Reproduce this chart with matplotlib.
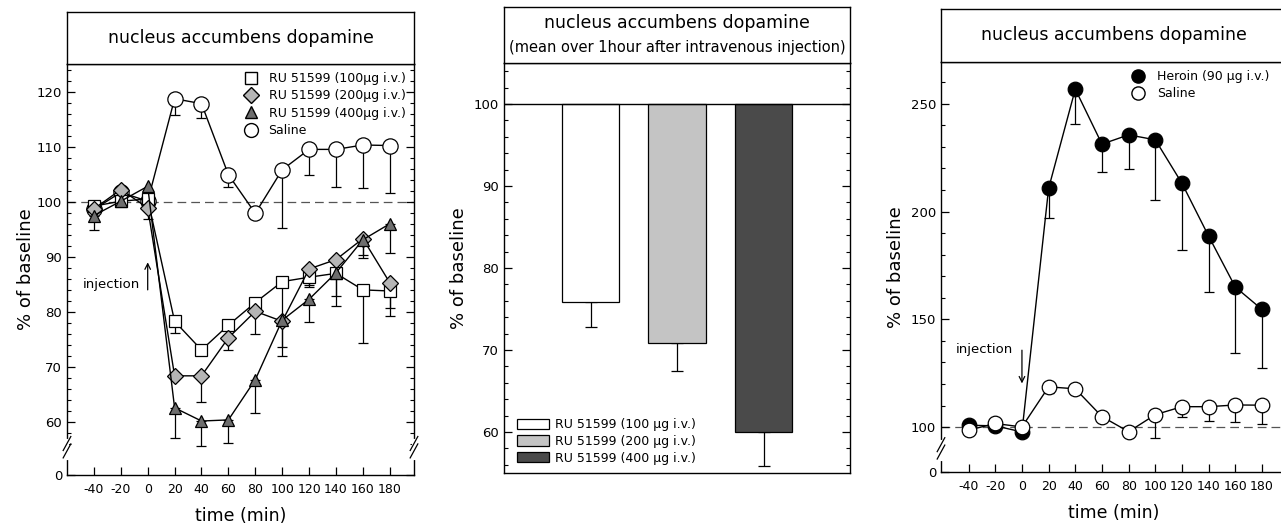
# Tres paneles: dopamina en nucleus accumbens (RU 51599, barras medias, heroina)
import numpy as np
import matplotlib.pyplot as plt
from matplotlib.lines import Line2D
from matplotlib.patches import Patch

plt.rcParams['font.family'] = 'DejaVu Sans'

# ---- datos ----
tiempo = [-40, -20, 0, 20, 40, 60, 80, 100, 120, 140, 160, 180]
tiempo_etiquetas = ['-40', '-20', '0', '20', '40', '60', '80', '100', '120', '140', '160', '180']

salina = [98.6, 101.7, 100.1, 118.7, 117.8, 104.9, 97.9, 105.8, 109.5, 109.5, 110.3, 110.2]
salina_sem = [0.8, 0.5, 0.5, 2.9, 2.6, 2.2, 0, 10.6, 4.7, 6.8, 7.8, 8.7]

ru100 = [99.2, 100.1, 100.5, 78.3, 73.1, 77.6, 81.7, 85.5, 86.3, 87.0, 84.0, 83.8]
ru100_sem = [0, 0, 0, 2.2, 0, 0, 0, 11.8, 1.5, 4.2, 9.7, 4.5]
ru200 = [98.7, 102.2, 98.9, 68.4, 68.4, 75.3, 80.1, 78.3, 87.8, 89.5, 93.3, 85.3]
ru200_sem = [0, 0, 2.0, 0, 4.8, 2.3, 4.1, 0, 3.3, 0, 3.0, 4.6]
ru400 = [97.5, 100.1, 102.8, 62.6, 60.2, 60.4, 67.7, 78.5, 82.3, 87.1, 93.1, 96.0]
ru400_sem = [2.6, 0, 0, 5.4, 4.6, 4.2, 6.1, 6.5, 4.2, 6.0, 3.3, 5.3]

heroina = [100.9, 100.6, 97.8, 210.8, 256.8, 231.3, 235.6, 233.3, 213.1, 188.6, 165.0, 154.6]
heroina_sem = [0, 0, 0, 13.7, 16.2, 12.8, 15.8, 27.7, 30.7, 26.0, 30.4, 27.1]

barras_etiquetas = ["RU 51599 (100 µg i.v.)", "RU 51599 (200 µg i.v.)", "RU 51599 (400 µg i.v.)"]
barras_valores = [75.8, 70.9, 60.0]
barras_sem = [3.0, 3.5, 4.1]

W, H = 1281, 524


def caja(x0, x1, y0, y1):
    # rectangulo en pixeles -> fraccion de figura
    return [x0 / W, 1 - y1 / H, (x1 - x0) / W, (y1 - y0) / H]


def serie(ax, t, v, sem, **estilo):
    t = np.array(t)
    v = np.array(v)
    sem = np.array(sem)
    m = sem > 0
    ax.errorbar(t[m], v[m], yerr=[sem[m], np.zeros(m.sum())], fmt='none',
                ecolor='black', elinewidth=0.9, capsize=3.5, capthick=0.9, zorder=2)
    ax.plot(t, v, color='black', lw=1.0, markeredgecolor='black',
            markeredgewidth=0.9, zorder=3, **estilo)


def titulo(pos, lineas):
    axt = fig.add_axes(pos)
    axt.set_xticks([])
    axt.set_yticks([])
    for s in axt.spines.values():
        s.set_linewidth(1.0)
    if len(lineas) == 1:
        axt.text(0.5, 0.5, lineas[0], ha='center', va='center', fontsize=12.5,
                 transform=axt.transAxes)
    else:
        axt.text(0.5, 0.72, lineas[0], ha='center', va='center', fontsize=12.5,
                 transform=axt.transAxes)
        axt.text(0.5, 0.28, lineas[1], ha='center', va='center', fontsize=10.5,
                 transform=axt.transAxes)


def corte(ax, yb):
    # marcas // del eje cortado (yb en fraccion de ejes)
    for xa in (0, 1):
        ax.plot([xa, xa], [yb - 0.012, yb + 0.03], color='white', lw=3,
                transform=ax.transAxes, clip_on=False, zorder=5)
        for d in (0.0, 0.018):
            ax.plot([xa - 0.011, xa + 0.011], [yb - 0.012 + d, yb + 0.022 + d],
                    color='black', lw=0.9, transform=ax.transAxes,
                    clip_on=False, zorder=6)


def ejes_base(ax):
    for s in ax.spines.values():
        s.set_linewidth(1.0)
    ax.tick_params(axis='both', which='both', direction='in', labelsize=9.5)
    ax.tick_params(which='major', length=6, width=0.9)
    ax.tick_params(which='minor', length=3, width=0.8)


fig = plt.figure(figsize=(W / 100, H / 100), dpi=100)

# ---- panel izquierdo ----
ax1 = fig.add_axes(caja(67, 414, 64, 475))
titulo(caja(67, 414, 12, 64), ["nucleus accumbens dopamine"])
ejes_base(ax1)
ax1.axhline(100, color='#555555', lw=0.9, dashes=(7, 4), zorder=1)
serie(ax1, tiempo, salina, salina_sem, marker='o', markersize=11, markerfacecolor='white')
serie(ax1, tiempo, ru100, ru100_sem, marker='s', markersize=8.5, markerfacecolor='white')
serie(ax1, tiempo, ru200, ru200_sem, marker='D', markersize=8, markerfacecolor='#b5b5b5')
serie(ax1, tiempo, ru400, ru400_sem, marker='^', markersize=9, markerfacecolor='#6e6e6e')
ax1.set_xlim(-60, 198)
ax1.set_ylim(50.4, 125)
ax1.set_xticks(tiempo)
ax1.set_xticklabels(tiempo_etiquetas, fontsize=9)
ax1.set_yticks([50.4, 60, 70, 80, 90, 100, 110, 120])
ax1.set_yticklabels(['0', '60', '70', '80', '90', '100', '110', '120'])
ax1.set_yticks(np.arange(56, 125, 2), minor=True)
ax1.tick_params(axis='y', which='both', right=True)
ax1.tick_params(axis='x', which='both', top=False, pad=6)
ax1.set_ylabel("% of baseline", fontsize=13, labelpad=1)
ax1.set_xlabel("time (min)", fontsize=12.5, labelpad=8)
corte(ax1, (54.4 - 50.4) / (125 - 50.4))
ax1.annotate("", xy=(0, 89.5), xytext=(0, 83.5),
             arrowprops=dict(arrowstyle='->', color='black', lw=0.9))
ax1.text(-6, 85, "injection", ha='right', va='center', fontsize=9.5)
leyenda1 = [
    Line2D([], [], ls='none', marker='s', ms=8.5, mfc='white', mec='black'),
    Line2D([], [], ls='none', marker='D', ms=8, mfc='#b5b5b5', mec='black'),
    Line2D([], [], ls='none', marker='^', ms=9, mfc='#6e6e6e', mec='black'),
    Line2D([], [], ls='none', marker='o', ms=10, mfc='white', mec='black'),
]
ax1.legend(leyenda1, ["RU 51599 (100µg i.v.)", "RU 51599 (200µg i.v.)",
                      "RU 51599 (400µg i.v.)", "Saline"],
           loc='upper left', bbox_to_anchor=(0.48, 1.005), frameon=False,
           fontsize=9, handlelength=1.2, handletextpad=0.8, labelspacing=0.35,
           borderpad=0.3)

# ---- panel central ----
ax2 = fig.add_axes(caja(504, 850, 63, 473))
titulo(caja(504, 850, 7, 63), ["nucleus accumbens dopamine",
                               "(mean over 1hour after intravenous injection)"])
ejes_base(ax2)
pos = [1, 2, 3]
colores = ['white', '#c4c4c4', '#4a4a4a']
alturas = [v - 100 for v in barras_valores]
ax2.bar(pos, alturas, bottom=100, width=0.66, color=colores,
        edgecolor='black', linewidth=0.9, zorder=2)
ax2.errorbar(pos, barras_valores, yerr=[barras_sem, [0, 0, 0]], fmt='none',
             ecolor='black', elinewidth=0.9, capsize=4, capthick=0.9, zorder=1)
ax2.axhline(100, color='black', lw=1.0, zorder=3)
ax2.set_xlim(0, 4)
ax2.set_ylim(55, 105)
ax2.set_xticks([])
ax2.set_yticks([60, 70, 80, 90, 100])
ax2.set_yticks(np.arange(56, 105, 2), minor=True)
ax2.tick_params(axis='y', which='both', right=True)
ax2.set_ylabel("% of baseline", fontsize=13, labelpad=4)
leyenda2 = [Patch(facecolor=c, edgecolor='black', linewidth=0.9) for c in colores]
ax2.legend(leyenda2, barras_etiquetas, loc='lower left',
           bbox_to_anchor=(0.0, -0.01), frameon=False, fontsize=9,
           handlelength=2.6, handleheight=0.9, handletextpad=0.5,
           labelspacing=0.3, borderpad=0.5)

# ---- panel derecho ----
ax3 = fig.add_axes(caja(941, 1286, 62, 472))
titulo(caja(941, 1286, 9, 62), ["nucleus accumbens dopamine"])
ejes_base(ax3)
ax3.axhline(100, color='#555555', lw=0.9, dashes=(7, 4), zorder=1)
serie(ax3, tiempo, heroina, heroina_sem, marker='o', markersize=10.5, markerfacecolor='black')
serie(ax3, tiempo, salina, salina_sem, marker='o', markersize=10.5, markerfacecolor='white')
ax3.set_xlim(-60.7, 198)
ax3.set_ylim(79.2, 269.4)
ax3.set_xticks(tiempo)
ax3.set_xticklabels(tiempo_etiquetas, fontsize=9)
ax3.set_yticks([79.2, 100, 150, 200, 250])
ax3.set_yticklabels(['0', '100', '150', '200', '250'])
ax3.set_yticks(np.arange(110, 270, 10), minor=True)
ax3.tick_params(axis='x', which='both', top=False, pad=6)
ax3.set_ylabel("% of baseline", fontsize=13, labelpad=4)
ax3.set_xlabel("time (min)", fontsize=12.5, labelpad=8)
corte(ax3, (87.5 - 79.2) / (269.4 - 79.2))
ax3.annotate("", xy=(0, 119), xytext=(0, 137),
             arrowprops=dict(arrowstyle='->', color='black', lw=0.9))
ax3.text(-7, 136, "injection", ha='right', va='center', fontsize=9.5)
leyenda3 = [
    Line2D([], [], ls='none', marker='o', ms=9.5, mfc='black', mec='black'),
    Line2D([], [], ls='none', marker='o', ms=9.5, mfc='white', mec='black'),
]
ax3.legend(leyenda3, ["Heroin (90 µg i.v.)", "Saline"], loc='upper left',
           bbox_to_anchor=(0.52, 1.005), frameon=False, fontsize=9,
           handlelength=1.2, handletextpad=0.9, labelspacing=0.35, borderpad=0.3)

fig.savefig("out.png", dpi=100)
